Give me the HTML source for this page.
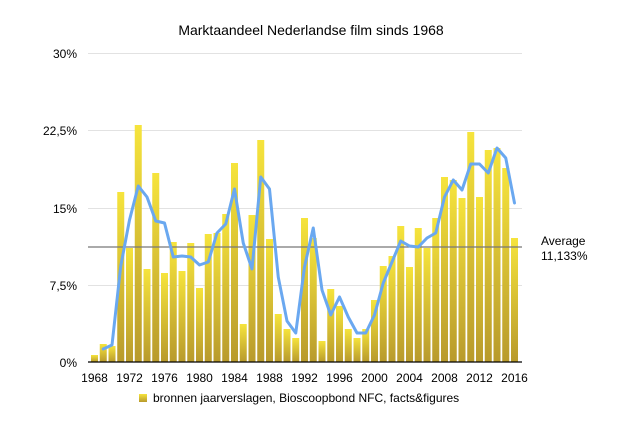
<!DOCTYPE html>
<html><head><meta charset="utf-8"><style>
html,body{margin:0;padding:0;background:#fff;}
svg{display:block;font-family:"Liberation Sans",sans-serif;}
</style></head><body>
<svg id="s" width="621" height="434" xmlns="http://www.w3.org/2000/svg">
<defs><linearGradient id="g" x1="0" y1="0" x2="0" y2="1">
<stop offset="0" stop-color="#f6e43c"/><stop offset="1" stop-color="#b89a2c"/></linearGradient>
<linearGradient id="gs" x1="0" y1="0" x2="0" y2="1">
<stop offset="0" stop-color="#f6e43c"/><stop offset="1" stop-color="#b89a2c"/></linearGradient></defs>
<text x="311" y="35" font-size="14" text-anchor="middle" fill="#000">Marktaandeel Nederlandse film sinds 1968</text>
<g stroke="#e2e2e2" stroke-width="1">
<line x1="88" x2="522" y1="53.5" y2="53.5"/><line x1="88" x2="522" y1="130.5" y2="130.5"/>
<line x1="88" x2="522" y1="208.5" y2="208.5"/><line x1="88" x2="522" y1="285.5" y2="285.5"/>
</g>
<g font-size="12" fill="#000" text-anchor="end">
<text x="77" y="58">30%</text><text x="77" y="135">22,5%</text><text x="77" y="213">15%</text><text x="77" y="290">7,5%</text><text x="77" y="367">0%</text>
</g>
<g id="bars"></g>
<line x1="88" x2="522" y1="247" y2="247" stroke="#777" stroke-width="1.2"/>
<polyline id="ln" fill="none" stroke="#6aa8f0" stroke-width="3" stroke-linejoin="round" stroke-linecap="round"/>
<line x1="88" x2="522" y1="362" y2="362" stroke="#000" stroke-width="1.2"/>
<g id="xl" font-size="12" fill="#000" text-anchor="middle"></g>
<text x="541" y="245" font-size="12" fill="#000">Average</text>
<text x="541" y="260" font-size="12" fill="#000">11,133%</text>
<rect x="139" y="394" width="8" height="8" fill="url(#gs)"/>
<text x="153" y="402" font-size="12" fill="#000">bronnen jaarverslagen, Bioscoopbond NFC, facts&amp;figures</text>
</svg>
<script>
var tops=[355,344,346,192,248,125,269,173,273,242,271,243,288,234,233,214,163,324,215,140,239,314,329,338,218,238,341,289,306,329,338,329,300,266,256,226,267,228,248,218,177,180,198,132,197,150,148,168,238];
var line={1969:349,1970:345,1971:266,1972:220,1973:186,1974:197,1975:221,1976:223,1977:257,1978:256,1979:257,1980:265,1981:262,1982:233,1983:224,1984:189,1985:243,1986:269,1987:177,1988:189,1989:277,1990:321,1991:333,1992:267,1993:228,1994:290,1995:315,1996:297,1997:317,1998:333,1999:333,2000:315,2001:283,2002:262,2003:241,2004:246,2005:247,2006:238,2007:233,2008:197,2009:180,2010:190,2011:164,2012:164,2013:173,2014:148,2015:158,2016:203};
var ns="http://www.w3.org/2000/svg",b=document.getElementById('bars'),x0=94.5,dx=8.75,h='';
for(var i=0;i<tops.length;i++){var cx=x0+i*dx;h+='<rect x="'+(cx-3.5)+'" y="'+tops[i]+'" width="7" height="'+(362-tops[i])+'" fill="url(#g)"/>';}
b.innerHTML=h;
var p=[];for(var y=1969;y<=2016;y++){p.push((x0+(y-1968)*dx)+','+line[y]);}
document.getElementById('ln').setAttribute('points',p.join(' '));
var t='';for(var y=1968;y<=2016;y+=4){t+='<text x="'+(x0+(y-1968)*dx)+'" y="382">'+y+'</text>';}
document.getElementById('xl').innerHTML=t;
</script>
</body></html>
